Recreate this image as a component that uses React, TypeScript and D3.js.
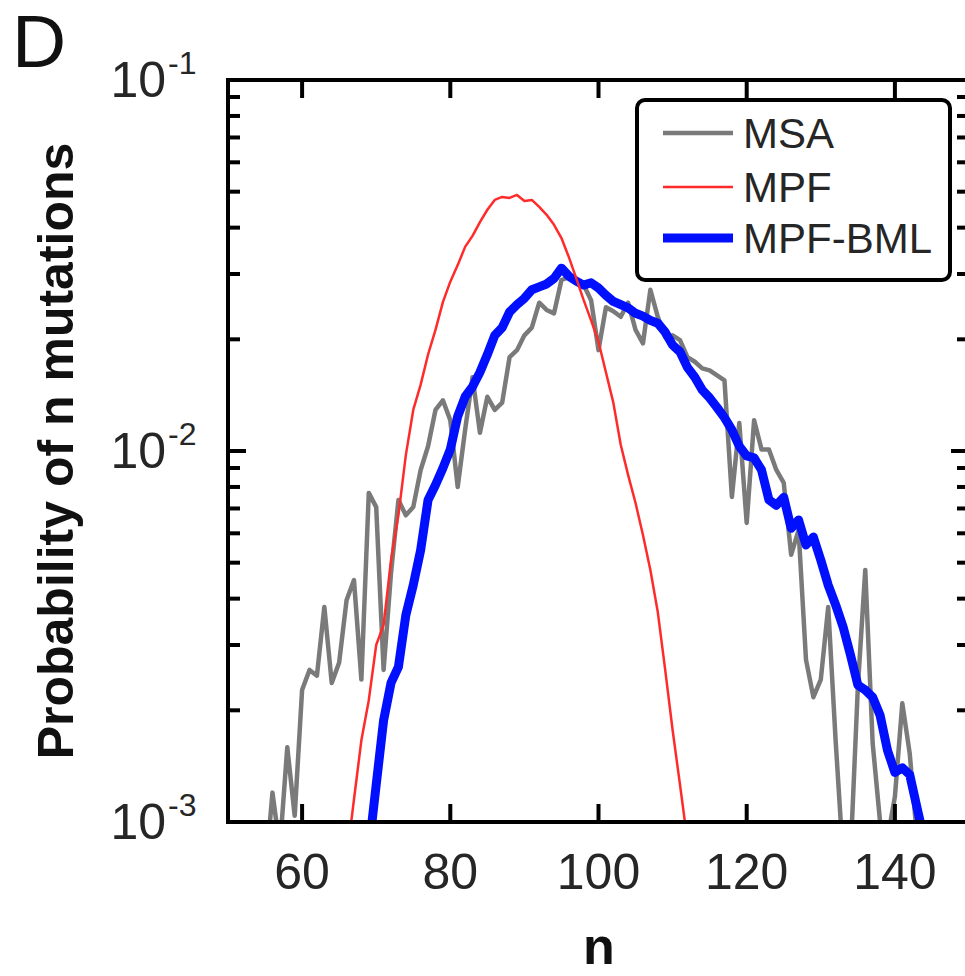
import React from "react";
import * as d3 from "d3";

const msaN = d3.range(55, 144);
const msaP = [
  7e-4, 1.2e-3, 8.5e-4, 1.59e-3, 1.04e-3, 2.27e-3, 2.57e-3, 2.48e-3, 3.8e-3, 2.37e-3,
  2.69e-3, 3.96e-3, 4.49e-3, 2.42e-3, 7.71e-3, 7.06e-3, 2.57e-3, 4.69e-3, 7.38e-3, 6.71e-3,
  7.06e-3, 8.89e-3, 1.03e-2, 1.29e-2, 1.37e-2, 1.21e-2, 8.0e-3, 1.14e-2, 1.58e-2, 1.12e-2,
  1.4e-2, 1.29e-2, 1.35e-2, 1.79e-2, 1.87e-2, 2.05e-2, 2.15e-2, 2.51e-2, 2.4e-2, 2.35e-2,
  2.89e-2, 2.94e-2, 2.86e-2, 2.8e-2, 2.55e-2, 1.87e-2, 2.44e-2, 2.38e-2, 2.3e-2, 2.51e-2,
  2.12e-2, 1.95e-2, 2.72e-2, 2.3e-2, 2.03e-2, 2.05e-2, 1.99e-2, 1.79e-2, 1.74e-2, 1.67e-2,
  1.65e-2, 1.6e-2, 1.55e-2, 7.52e-3, 1.19e-2, 6.4e-3, 1.21e-2, 1.01e-2, 1.01e-2, 8.89e-3,
  8.2e-3, 5.25e-3, 6.12e-3, 2.74e-3, 2.17e-3, 2.42e-3, 3.8e-3, 1.66e-3, 8e-4, 8e-4,
  2.31e-3, 4.78e-3, 1.63e-3, 1.0e-3, 9e-4, 1.17e-3, 2.09e-3, 1.53e-3, 9e-4,
];

const mpfN = d3.range(66, 113);
const mpfP = [
  7.9e-4, 1.15e-3, 1.66e-3, 2.13e-3, 3.0e-3, 3.4e-3, 5.08e-3, 6.72e-3, 9.75e-3, 1.29e-2,
  1.51e-2, 1.82e-2, 2.12e-2, 2.52e-2, 2.86e-2, 3.17e-2, 3.55e-2, 3.8e-2, 4.14e-2, 4.47e-2,
  4.75e-2, 4.84e-2, 4.81e-2, 4.9e-2, 4.72e-2, 4.75e-2, 4.55e-2, 4.33e-2, 4.07e-2, 3.75e-2,
  3.33e-2, 2.92e-2, 2.55e-2, 2.25e-2, 1.97e-2, 1.63e-2, 1.35e-2, 1.04e-2, 8.61e-3, 7.24e-3,
  5.94e-3, 4.78e-3, 3.68e-3, 2.57e-3, 1.77e-3, 1.26e-3, 8.9e-4,
];

const bmlN = d3.range(69, 145);
const bmlP = [
  8.4e-4, 1.26e-3, 1.88e-3, 2.37e-3, 2.62e-3, 3.61e-3, 4.35e-3, 5.41e-3, 7.38e-3, 8.1e-3,
  8.99e-3, 1.01e-2, 1.24e-2, 1.4e-2, 1.49e-2, 1.63e-2, 1.82e-2, 2.05e-2, 2.15e-2, 2.37e-2,
  2.48e-2, 2.58e-2, 2.72e-2, 2.77e-2, 2.82e-2, 2.92e-2, 3.11e-2, 2.96e-2, 2.87e-2, 2.8e-2,
  2.84e-2, 2.75e-2, 2.63e-2, 2.53e-2, 2.48e-2, 2.43e-2, 2.35e-2, 2.31e-2, 2.25e-2, 2.21e-2,
  2.09e-2, 1.93e-2, 1.85e-2, 1.68e-2, 1.58e-2, 1.46e-2, 1.39e-2, 1.31e-2, 1.23e-2, 1.14e-2,
  1.03e-2, 9.7e-3, 9.58e-3, 8.89e-3, 7.38e-3, 7.14e-3, 7.5e-3, 6.19e-3, 6.52e-3, 5.58e-3,
  5.86e-3, 5.08e-3, 4.35e-3, 3.85e-3, 3.36e-3, 2.82e-3, 2.34e-3, 2.27e-3, 2.17e-3, 1.94e-3,
  1.56e-3, 1.36e-3, 1.4e-3, 1.34e-3, 1.09e-3, 8.9e-4,
];

const xTicks = [60, 80, 100, 120, 140];
const yMajor = [1e-1, 1e-2, 1e-3];
const yMajorExp = ["-1", "-2", "-3"];
const legendLabels = ["MSA", "MPF", "MPF-BML"];

const W = 965;
const H = 976;
const X0 = 228, X1 = 969, Y0 = 80, Y1 = 822;
const FONT = "Liberation Sans, Arial, Helvetica, sans-serif";

export default function App() {
  const x = d3.scaleLinear().domain([50, 150]).range([X0, X1]);
  const y = d3.scaleLog().domain([1e-3, 1e-1]).range([Y1, Y0]);
  const line = d3
    .line<[number, number]>()
    .x((d) => x(d[0]))
    .y((d) => y(d[1]));
  const zip = (ns: number[], ps: number[]) => ns.map((n, i) => [n, ps[i]] as [number, number]);

  const minor: number[] = [];
  for (const dec of [1e-3, 1e-2]) for (let k = 2; k <= 9; k++) minor.push(k * dec);

  const series = [
    { label: legendLabels[0], d: line(zip(msaN, msaP)), color: "#7a7a7a", w: 4.5 },
    { label: legendLabels[1], d: line(zip(mpfN, mpfP)), color: "#ff2b2b", w: 2.5 },
    { label: legendLabels[2], d: line(zip(bmlN, bmlP)), color: "#0010ff", w: 9 },
  ];
  const drawOrder = [0, 2, 1];

  const legX = 637, legY = 100, legW = 313, legH = 180;
  const legRows = [133, 187, 238];

  return (
    <svg
      width={W}
      height={H}
      style={{ position: "absolute", left: 0, top: 0, background: "#fff" }}
      fontFamily={FONT}
    >
      <defs>
        <clipPath id="plotclip">
          <rect x={X0} y={Y0} width={X1 - X0} height={Y1 - Y0} />
        </clipPath>
      </defs>
      <rect x={0} y={0} width={W} height={H} fill="#fff" />

      {/* panel letter */}
      <text x={12} y={67} fontSize={75} fill="#111">D</text>

      {/* data */}
      <g clipPath="url(#plotclip)">
        {drawOrder.map((i) => (
          <path
            key={i}
            d={series[i].d || ""}
            fill="none"
            stroke={series[i].color}
            strokeWidth={series[i].w}
            strokeLinejoin="round"
            strokeLinecap="butt"
          />
        ))}
      </g>

      {/* axes box */}
      <rect x={X0} y={Y0} width={X1 - X0} height={Y1 - Y0} fill="none" stroke="#000" strokeWidth={4} />

      {/* x ticks */}
      {xTicks.map((t) => (
        <g key={"xt" + t}>
          <line x1={x(t)} x2={x(t)} y1={Y1} y2={Y1 - 18} stroke="#000" strokeWidth={4} />
          <line x1={x(t)} x2={x(t)} y1={Y0} y2={Y0 + 18} stroke="#000" strokeWidth={4} />
          <text x={x(t)} y={889} fontSize={50} textAnchor="middle" fill="#262626">
            {t}
          </text>
        </g>
      ))}

      {/* y ticks */}
      {yMajor.map((t, i) => (
        <g key={"ym" + i}>
          <line x1={X0} x2={X0 + 18} y1={y(t)} y2={y(t)} stroke="#000" strokeWidth={4} />
          <line x1={X1} x2={X1 - 18} y1={y(t)} y2={y(t)} stroke="#000" strokeWidth={4} />
          <text x={166} y={y(t) + 17} fontSize={50} textAnchor="end" fill="#262626">
            10
          </text>
          <text x={168} y={y(t) - 6} fontSize={32} textAnchor="start" fill="#262626">
            {yMajorExp[i]}
          </text>
        </g>
      ))}
      {minor.map((t, i) => (
        <g key={"yn" + i}>
          <line x1={X0} x2={X0 + 12} y1={y(t)} y2={y(t)} stroke="#000" strokeWidth={4} />
          <line x1={X1} x2={X1 - 12} y1={y(t)} y2={y(t)} stroke="#000" strokeWidth={4} />
        </g>
      ))}

      {/* axis labels */}
      <text
        transform={`translate(73, ${(Y0 + Y1) / 2}) rotate(-90)`}
        fontSize={50}
        fontWeight="bold"
        textAnchor="middle"
        fill="#111"
      >
        Probability of n mutations
      </text>
      <text x={599} y={964} fontSize={52} fontWeight="bold" textAnchor="middle" fill="#111">
        n
      </text>

      {/* legend */}
      <rect x={legX} y={legY} width={legW} height={legH} rx={8} ry={8} fill="#fff" stroke="#000" strokeWidth={4} />
      {series.map((s, i) => (
        <g key={"lg" + i}>
          <line x1={663} x2={733} y1={legRows[i]} y2={legRows[i]} stroke={s.color} strokeWidth={s.w} />
          <text x={743} y={legRows[i] + 15} fontSize={42} fill="#262626">
            {s.label}
          </text>
        </g>
      ))}
    </svg>
  );
}
